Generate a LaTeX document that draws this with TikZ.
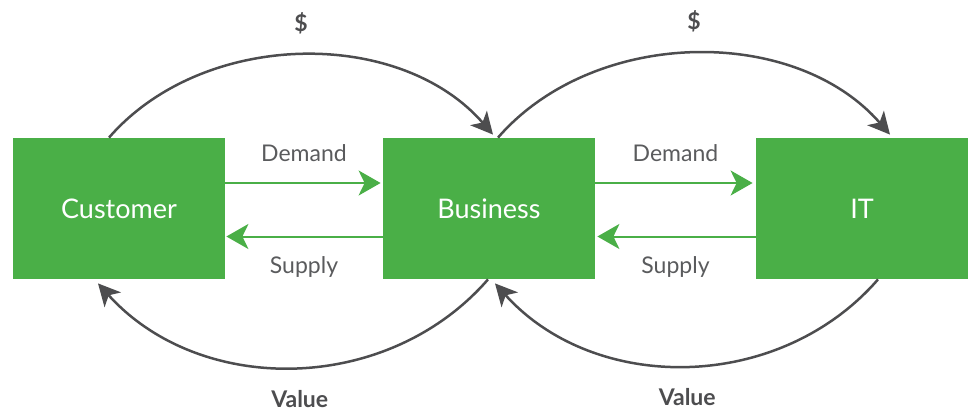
\documentclass[tikz,border=0pt]{standalone}
\usepackage{fontspec}
\setmainfont{Lato}
\usepackage{xcolor}
\usetikzlibrary{arrows.meta, positioning}
\definecolor{FlowGreen}{HTML}{4AAF47}
\definecolor{FlowGrey}{HTML}{4D4D4F}
\definecolor{LabelGrey}{HTML}{5A5B5D}

\begin{document}
\begin{tikzpicture}[
    >=Stealth,
    x=0.5pt, y=-0.5pt,
    party/.style={
        fill=FlowGreen,
        draw=none,
        minimum width=106pt,
        minimum height=70.5pt,
        inner sep=0pt,
        text=white,
        font=\fontsize{13.5}{16}\selectfont
    },
    request/.style={draw=FlowGreen, line width=1pt, -{Stealth[length=11pt, width=12.5pt, inset=3pt]}},
    money/.style={draw=FlowGrey, line width=1.25pt, -{Stealth[length=11pt, width=11pt, inset=3pt]}},
    tag/.style={font=\fontsize{11.5}{13}\selectfont, text=LabelGrey, inner sep=0pt},
    boldtag/.style={font=\bfseries\fontsize{11.5}{14}\selectfont, text=FlowGrey, inner sep=0pt}
]
\useasboundingbox (0,0) rectangle (968,412);

\node[party] (cust) at (119,208.5) {Customer};
\node[party] (bus) at (489,208.5) {Business};
\node[party] (it) at (862,208.5) {IT};

% demand / supply between neighbours
\path ([yshift=12.75pt]cust.east) edge[request, shorten >=1pt] node[tag, above=10pt] {Demand} ([yshift=12.75pt]bus.west);
\path ([yshift=-14pt]bus.west) edge[request, shorten >=0.5pt] node[tag, below=9.5pt] {Supply} ([yshift=-14pt]cust.east);
\path ([yshift=12.75pt]bus.east) edge[request, shorten >=1.5pt] node[tag, above=10pt] {Demand} ([yshift=12.75pt]it.west);
\path ([yshift=-14pt]it.west) edge[request, shorten >=1pt] node[tag, below=9.5pt] {Supply} ([yshift=-14pt]bus.east);

% money goes over the top, value comes back underneath
\path ([xshift=-5pt]cust.north) edge[money, out=49, in=131, looseness=0.95] node[boldtag, above=10pt] {\$} ([xshift=2pt, yshift=1.5pt]bus.north);
\path ([xshift=4.5pt]bus.north) edge[money, out=49, in=131, looseness=0.95] node[boldtag, above=10pt] {\$} ([xshift=14pt, yshift=1.5pt]it.north);
\path ([xshift=-0.5pt]bus.south) edge[money, out=-131, in=-48] node[boldtag, below=11pt, xshift=3pt] {Value} ([xshift=-10.5pt, yshift=-2pt]cust.south);
\path ([xshift=8pt]it.south) edge[money, out=-131, in=-48] node[boldtag, below=11pt] {Value} ([xshift=3pt, yshift=-2pt]bus.south);
\end{tikzpicture}
\end{document}
